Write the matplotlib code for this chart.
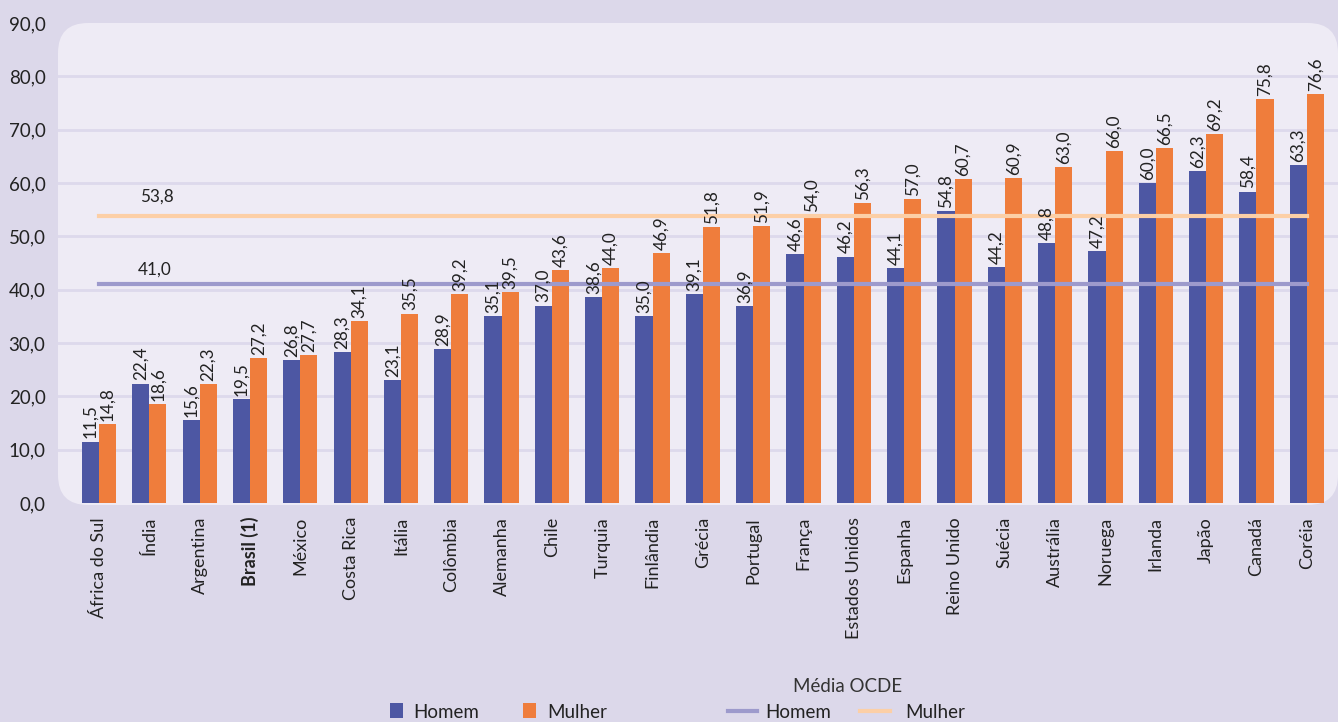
import numpy as np
import matplotlib
matplotlib.use('Agg')
import matplotlib.pyplot as plt
from matplotlib.patches import FancyBboxPatch, Rectangle
from matplotlib.lines import Line2D
from matplotlib.transforms import IdentityTransform

# Dados
paises = ['África do Sul', 'Índia', 'Argentina', 'Brasil (1)', 'México', 'Costa Rica',
          'Itália', 'Colômbia', 'Alemanha', 'Chile', 'Turquia', 'Finlândia', 'Grécia',
          'Portugal', 'França', 'Estados Unidos', 'Espanha', 'Reino Unido', 'Suécia',
          'Austrália', 'Noruega', 'Irlanda', 'Japão', 'Canadá', 'Coréia']
homem = [11.5, 22.4, 15.6, 19.5, 26.8, 28.3, 23.1, 28.9, 35.1, 37.0, 38.6, 35.0, 39.1,
         36.9, 46.6, 46.2, 44.1, 54.8, 44.2, 48.8, 47.2, 60.0, 62.3, 58.4, 63.3]
mulher = [14.8, 18.6, 22.3, 27.2, 27.7, 34.1, 35.5, 39.2, 39.5, 43.6, 44.0, 46.9, 51.8,
          51.9, 54.0, 56.3, 57.0, 60.7, 60.9, 63.0, 66.0, 66.5, 69.2, 75.8, 76.6]
media_homem = 41.0
media_mulher = 53.8
yticks = np.arange(0, 91, 10)

c_homem = '#4D57A3'
c_mulher = '#EF7D3C'
c_med_homem = '#9D9ACC'
c_med_mulher = '#FCCFA6'
fundo = '#DCD8EA'
painel = '#EEEBF5'
texto = '#222222'

plt.rcParams['font.family'] = ['Lato', 'DejaVu Sans']

W, H = 1338, 722
fig = plt.figure(figsize=(W / 100, H / 100), dpi=100)
fig.patch.set_facecolor(fundo)

# painel arredondado (em pixels)
p = FancyBboxPatch((58, H - 505), 1338 - 58, 505 - 23, boxstyle='round,pad=0,rounding_size=30',
                   transform=IdentityTransform(), facecolor=painel, edgecolor='none', zorder=0)
fig.add_artist(p)

ax = fig.add_axes([58 / W, 1 - 503 / H, 1 - 58 / W, (503 - 23) / H])
ax.set_facecolor('none')
for s in ax.spines.values():
    s.set_visible(False)

x = np.arange(len(paises))
w = 0.34
ax.set_xlim(-0.815, len(paises) - 1 + 0.62)
ax.set_ylim(0, 90)

for yv in yticks[1:-1]:
    ax.axhline(yv, color='#DDD9EC', lw=2, zorder=1)

ax.bar(x - w / 2, homem, w, color=c_homem, zorder=2)
ax.bar(x + w / 2, mulher, w, color=c_mulher, zorder=2)

for xi, h, m in zip(x, homem, mulher):
    ax.text(xi - w / 2, h + 0.6, f'{h:.1f}'.replace('.', ','), rotation=90, ha='center',
            va='bottom', fontsize=12.3, color=texto, zorder=4)
    ax.text(xi + w / 2, m + 0.6, f'{m:.1f}'.replace('.', ','), rotation=90, ha='center',
            va='bottom', fontsize=12.3, color=texto, zorder=4)

ax.plot([x[0], x[-1]], [media_homem, media_homem], color=c_med_homem, lw=3, zorder=3)
ax.plot([x[0], x[-1]], [media_mulher, media_mulher], color=c_med_mulher, lw=3, zorder=3)
ax.text(1.1, media_homem + 1.2, f'{media_homem:.1f}'.replace('.', ','), fontsize=12.3,
        color=texto, ha='center', va='bottom')
ax.text(1.15, media_mulher + 2.2, f'{media_mulher:.1f}'.replace('.', ','), fontsize=12.3,
        color=texto, ha='center', va='bottom')

ax.set_yticks(yticks)
ax.set_yticklabels([f'{v:.1f}'.replace('.', ',') for v in yticks], fontsize=13.5, color=texto)
ax.set_xticks(x)
ax.set_xticklabels(paises, rotation=90, fontsize=13, color=texto)
for lab in ax.get_xticklabels():
    if lab.get_text() == 'Brasil (1)':
        lab.set_fontweight('bold')
ax.tick_params(axis='both', length=0)
ax.tick_params(axis='y', pad=9)
ax.tick_params(axis='x', pad=10)

# legenda
def px(xp, yp):
    return xp / W, 1 - yp / H

fig.add_artist(Rectangle(px(390, 718), 13 / W, 15 / H, transform=fig.transFigure,
                         facecolor=c_homem, edgecolor='none'))
fig.text(*px(413, 712), 'Homem', fontsize=13.5, color=texto, va='center')
fig.add_artist(Rectangle(px(523, 718), 13 / W, 15 / H, transform=fig.transFigure,
                         facecolor=c_mulher, edgecolor='none'))
fig.text(*px(547, 712), 'Mulher', fontsize=13.5, color=texto, va='center')
fig.text(*px(848, 687), 'Média OCDE', fontsize=13.5, color='#333333', ha='center', va='center')
fig.add_artist(Line2D([728 / W, 757 / W], [1 - 711 / H, 1 - 711 / H], transform=fig.transFigure,
                      color=c_med_homem, lw=3))
fig.text(*px(765, 712), 'Homem', fontsize=13.5, color=texto, va='center')
fig.add_artist(Line2D([860 / W, 890 / W], [1 - 711 / H, 1 - 711 / H], transform=fig.transFigure,
                      color=c_med_mulher, lw=3))
fig.text(*px(905, 712), 'Mulher', fontsize=13.5, color=texto, va='center')

fig.savefig('out.png', dpi=100, facecolor=fig.get_facecolor())
